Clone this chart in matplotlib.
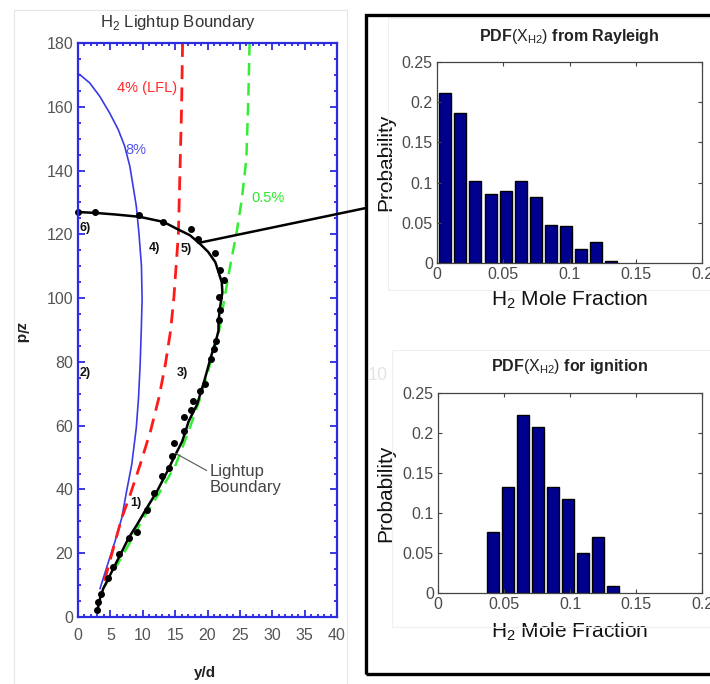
import matplotlib
matplotlib.use("Agg")
import matplotlib.pyplot as plt
from matplotlib.patches import Rectangle, ConnectionPatch
from matplotlib.ticker import MultipleLocator

plt.rcParams['font.family'] = ['Liberation Sans', 'DejaVu Sans']
plt.rcParams['mathtext.fontset'] = 'custom'
plt.rcParams['mathtext.rm'] = 'Liberation Sans'

# ---------------- data: lightup boundary chart ----------------
blue_y = [0.26, 1.8, 3.35, 4.9, 6.2, 7.2, 8.0, 8.5, 9.0, 9.4, 9.8, 9.9, 9.77, 9.6, 9.35, 9.0, 8.3, 7.5, 6.75, 5.7, 4.7, 3.4]
blue_z = [170.1, 167.5, 163.3, 158, 152.9, 147.7, 141.4, 135.2, 128.9, 120.6, 110.1, 99.7, 89.8, 79.3, 68.8, 59.3, 47.8, 39.4, 31, 23.6, 17.3, 8.9]

red_y = [16.15, 16.0, 15.5, 14.8, 14.3, 13.5, 12.5, 11.2, 9.6, 8.05, 6.75, 5.45, 4.2, 3.6]
red_z = [180, 160, 120, 100, 89.8, 79.3, 68.8, 58.3, 47.8, 38.3, 31, 21.5, 12.1, 8.9]

green_y = [26.5, 26.3, 26.0, 25.3, 24.5, 23.5, 22.6, 21.8, 20.4, 18.9, 17.1, 15.1, 12.7, 10.1, 7.8, 5.45, 3.9]
green_z = [180, 162.3, 143.6, 131, 120.6, 110.1, 99.7, 89.8, 79.3, 68.8, 58.3, 47.8, 39.4, 31, 22.6, 14.2, 8.9]

bound_y = [3.0, 3.4, 3.9, 4.7, 5.45, 6.5, 7.8, 9.1, 10.6, 12.2, 13.8, 14.8, 16.1, 17.1, 18.4, 19.5, 20.5, 21.3, 21.7,
           21.7, 21.9, 22.3, 22.2, 21.7, 21.2, 20.1, 18.8, 17.3, 15.2, 13.2, 9.5, 5.9, 2.8, 0.0]
bound_z = [2.1, 5.8, 8.9, 12.1, 15.2, 19.4, 24.7, 28.9, 34.1, 39.4, 45.7, 49.9, 55.1, 61.4, 66.7, 74, 81.4, 86.6, 89.8,
           92.4, 96.6, 101.8, 105, 108.2, 111.3, 114.5, 117.1, 119.7, 121.8, 123.9, 125.5, 126.2, 126.7, 127]

dots_y = [0.0, 2.7, 9.4, 13.1, 17.4, 18.6, 21.2, 21.9, 22.6, 21.8, 21.9, 21.7,
          21.3, 21.0, 20.5, 19.6, 18.9, 17.7, 17.4, 16.3, 16.4, 14.9, 14.5, 14.0, 13.0, 11.7, 10.6, 9.1, 7.8, 6.4,
          5.45, 4.7, 3.6, 3.1, 3.0]
dots_z = [127, 127, 126, 124, 121.6, 118.5, 114, 108.9, 105.7, 100.5, 96.3, 93,
          86.6, 84, 80.8, 73, 70.9, 67.7, 65, 62.7, 58.3, 54.6, 50.4, 46.7, 44.1, 38.8, 33.6, 26.8, 24.7, 19.9,
          15.7, 12.1, 7.3, 4.7, 2.1]

region_labels = ['1)', '2)', '3)', '4)', '5)', '6)']
region_y = [8.0, 0.3, 15.2, 10.9, 15.8, 0.3]
region_z = [35.7, 76.4, 76.4, 115.6, 115.3, 122.0]

# ---------------- data: histograms ----------------
rayleigh_x = [0.0063, 0.0177, 0.0290, 0.0404, 0.0518, 0.0632, 0.0745, 0.0859, 0.0973, 0.1087, 0.1200, 0.1314]
rayleigh_p = [0.212, 0.187, 0.1025, 0.086, 0.090, 0.1025, 0.0826, 0.047, 0.0455, 0.018, 0.0256, 0.0025]

ignition_x = [0.0419, 0.0533, 0.0646, 0.0760, 0.0873, 0.0987, 0.1101, 0.1214, 0.1328]
ignition_p = [0.0763, 0.132, 0.222, 0.208, 0.132, 0.118, 0.050, 0.070, 0.0083]

hist_xticks = [0, 0.05, 0.1, 0.15, 0.2]
hist_xticklabels = ['0', '0.05', '0.1', '0.15', '0.2']
hist_yticks = [0, 0.05, 0.1, 0.15, 0.2, 0.25]
hist_yticklabels = ['0', '0.05', '0.1', '0.15', '0.2', '0.25']

W, H = 710, 684
fig = plt.figure(figsize=(W / 100, H / 100), dpi=100)

def fx(px):
    return px / W

def fy(py):
    return 1 - py / H

# faint background panels
fig.add_artist(Rectangle((fx(14), fy(700)), fx(347 - 14), (700 - 10) / H, transform=fig.transFigure,
                         fill=False, edgecolor='#e6e6e6', lw=0.8))
fig.add_artist(Rectangle((fx(388), fy(290)), fx(330), (290 - 18) / H, transform=fig.transFigure,
                         fill=False, edgecolor='#efefef', lw=0.8))
fig.add_artist(Rectangle((fx(392), fy(627)), fx(330), (627 - 350) / H, transform=fig.transFigure,
                         fill=False, edgecolor='#efefef', lw=0.8))
# black framed box on the right
fig.add_artist(Rectangle((fx(366), fy(674)), fx(380), (674 - 15) / H, transform=fig.transFigure,
                         fill=False, edgecolor='black', lw=2.4))
fig.text(fx(368), fy(375), '10', color='#e4e4e4', fontsize=13, ha='left', va='center')

# ---------------- left chart ----------------
ax = fig.add_axes([fx(78), fy(617), fx(337 - 78), (617 - 43) / H])
blue = '#2b2be0'
ax.plot(blue_y, blue_z, color='#3a3ae6', lw=1.2)
ax.plot(red_y, red_z, color='#ff1a1a', lw=2.0, dashes=(5, 3))
ax.plot(green_y, green_z, color='#33ee33', lw=1.8, dashes=(5, 3))
ax.plot(bound_y, bound_z, color='black', lw=1.8)
ax.plot(dots_y, dots_z, 'o', color='black', ms=4, clip_on=False)
ax.set_xlim(0, 40)
ax.set_ylim(0, 180)
ax.xaxis.set_major_locator(MultipleLocator(5))
ax.xaxis.set_minor_locator(MultipleLocator(1))
ax.yaxis.set_major_locator(MultipleLocator(20))
ax.yaxis.set_minor_locator(MultipleLocator(5))
for s in ax.spines.values():
    s.set_color(blue)
    s.set_linewidth(1.6)
ax.tick_params(which='both', direction='in', top=True, right=True, color=blue, width=1.3,
               labelsize=11.5, labelcolor='#555555')
ax.tick_params(which='major', length=5)
ax.tick_params(which='minor', length=2.5)
ax.tick_params(axis='x', pad=8)

ax.text(15.3, 165.8, '4% (LFL)', color='#ff2a2a', fontsize=10.5, ha='right', va='center')
ax.text(7.3, 146.4, '8%', color='#5555ee', fontsize=10.5, ha='left', va='center')
ax.text(26.8, 131.3, '0.5%', color='#2ee82e', fontsize=10.5, ha='left', va='center')
for lab, yy, zz in zip(region_labels, region_y, region_z):
    ax.text(yy, zz, lab, fontsize=9, fontweight='bold', color='#111111', ha='left', va='center')
ax.annotate('Lightup\nBoundary', xy=(15.0, 51.4), xytext=(20.3, 43), fontsize=12, color='#444444',
            ha='left', va='center', linespacing=1.1,
            arrowprops=dict(arrowstyle='-', color='#555555', lw=0.8, shrinkA=0, shrinkB=0,
                            relpos=(0, 0.75)))

fig.text(fx(178), fy(22), 'H$_2$ Lightup Boundary', fontsize=12, color='#333333', ha='center', va='center')
fig.text(fx(205), fy(673), 'y/d', fontsize=11, fontweight='bold', color='#222222', ha='center', va='center')
fig.text(fx(20), fy(333), 'z/d', fontsize=11, fontweight='bold', color='#222222', ha='center', va='center',
         rotation=-90)

con = ConnectionPatch(xyA=(18.6, 117.3), coordsA=ax.transData, xyB=(fx(366), fy(208)),
                      coordsB=fig.transFigure, color='black', lw=1.8)
fig.add_artist(con)

# ---------------- histograms ----------------
def hist_axes(left, right, top, bottom, xs, ps, title, title_y, xlabel_y):
    h = fig.add_axes([fx(left), fy(bottom), fx(right - left), (bottom - top) / H])
    h.bar(xs, ps, width=0.0091, color='#00008f', edgecolor='black', linewidth=1.0)
    h.set_xlim(0, 0.2)
    h.set_ylim(0, 0.25)
    h.set_xticks(hist_xticks)
    h.set_xticklabels(hist_xticklabels)
    h.set_yticks(hist_yticks)
    h.set_yticklabels(hist_yticklabels)
    for s in h.spines.values():
        s.set_color('#444444')
        s.set_linewidth(0.9)
    h.tick_params(direction='in', top=True, right=True, length=3, color='#444444',
                  labelsize=11.5, labelcolor='#4a4a4a', pad=3)
    h.set_xlabel('H$_2$ Mole Fraction', fontsize=15, color='#111111', va='center')
    h.xaxis.set_label_coords(0.5, (bottom - xlabel_y) / (bottom - top))
    h.set_ylabel('Probability', fontsize=15, color='#111111', va='center')
    h.yaxis.set_label_coords((386 - left) / (right - left), 0.5)
    fig.text(fx((left + right) / 2), fy(title_y), title, fontsize=11.5, fontweight='bold',
             color='#222222', ha='center', va='center')
    return h

hist_axes(437, 702, 62, 263, rayleigh_x, rayleigh_p, r'PDF$\mathrm{(X_{H2})}$ from Rayleigh', 37, 300)
hist_axes(438, 702, 393, 593, ignition_x, ignition_p, r'PDF$\mathrm{(X_{H2})}$ for ignition', 367, 632)

fig.savefig('out.png', dpi=100)
